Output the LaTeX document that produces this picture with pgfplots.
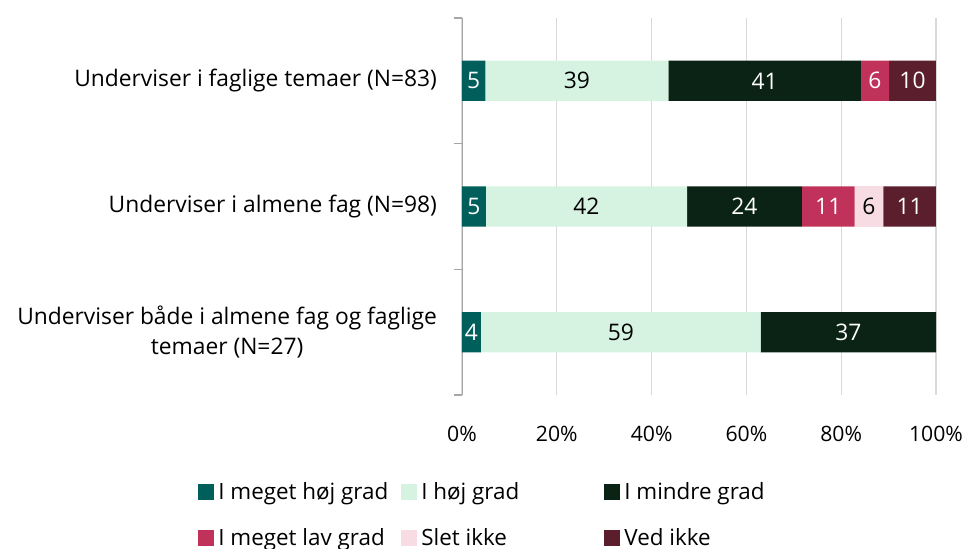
\documentclass[border=0pt]{standalone}
\usepackage{fontspec}
\setmainfont{Open Sans}
\usepackage{pgfplots}
\pgfplotsset{compat=1.18}
\usetikzlibrary{calc}
\definecolor{c1}{HTML}{005F5A}
\definecolor{c2}{HTML}{D6F3E2}
\definecolor{c3}{HTML}{0A2314}
\definecolor{c4}{HTML}{C0325A}
\definecolor{c5}{HTML}{F7DDE3}
\definecolor{c6}{HTML}{5A1E2D}
\definecolor{gridgray}{HTML}{D9D9D9}
\definecolor{axisgray}{HTML}{A6A6A6}

\newcommand{\legtext}[1]{\makebox[89.5pt][l]{#1}}

\begin{document}
\begin{tikzpicture}[font=\fontsize{11.4}{15}\selectfont]
\begin{axis}[
    name=ax,
    scale only axis,
    width=237pt, height=188.5pt,
    xbar stacked,
    bar width=0.32,
    xmin=0, xmax=100,
    ymin=-0.5, ymax=2.5,
    axis lines=left,
    axis line style={-},
    x axis line style={draw=none},
    y axis line style={draw=axisgray},
    xtick={0,20,...,100},
    xticklabel={\pgfmathprintnumber{\tick}\%},
    xticklabel style={yshift=-12pt, font=\fontsize{10.6}{13}\selectfont},
    /pgf/number format/assume math mode=true,
    xmajorgrids,
    major grid style={gridgray, line width=0.6pt},
    ytick={0,1,2},
    yticklabels={{Underviser både i almene fag og faglige\\temaer (N=27)},
                 {Underviser i almene fag (N=98)},
                 {Underviser i faglige temaer (N=83)}},
    yticklabel style={align=center, xshift=-9pt},
    minor ytick={-0.5,0.5,1.5,2.5},
    tick align=outside,
    major tick length=0pt,
    minor tick length=4pt,
    minor tick style={axisgray, line width=0.6pt},
    legend columns=3,
    legend cell align=left,
    legend style={draw=none, at={(-0.557,-0.22)}, anchor=north west,
        row sep=9pt, inner sep=0pt, font=\fontsize{11.2}{14}\selectfont},
    legend image code/.code={\fill[#1] (0pt,-4pt) rectangle (8pt,4pt);},
]
% shares of each bar (normalised to 100 %)
\addplot[fill=c1, draw=none] coordinates {(4.95,2) (5.05,1) (4,0)};
\addlegendentry{\legtext{I meget høj grad}}
\addplot[fill=c2, draw=none] coordinates {(38.61,2) (42.42,1) (59,0)};
\addlegendentry{\legtext{I høj grad}}
\addplot[fill=c3, draw=none] coordinates {(40.59,2) (24.24,1) (37,0)};
\addlegendentry{\legtext{I mindre grad}}
\addplot[fill=c4, draw=none] coordinates {(5.94,2) (11.11,1) (0,0)};
\addlegendentry{\legtext{I meget lav grad}}
\addplot[fill=c5, draw=none] coordinates {(0,2) (6.06,1) (0,0)};
\addlegendentry{\legtext{Slet ikke}}
\addplot[fill=c6, draw=none] coordinates {(9.90,2) (11.11,1) (0,0)};
\addlegendentry{\legtext{Ved ikke}}
\end{axis}
% value labels, centred in each segment
\begin{axis}[
    scale only axis,
    width=237pt, height=188.5pt,
    xmin=0, xmax=100,
    ymin=-0.5, ymax=2.5,
    hide axis,
    point meta=explicit symbolic,
    nodes near coords,
    nodes near coords style={anchor=center, inner sep=0pt},
]
\addplot[draw=none, mark=none, nodes near coords style={text=white}] coordinates {
    (2.475,2) [5] (63.855,2) [41] (87.12,2) [6] (95.04,2) [10]
    (2.525,1) [5] (59.59,1) [24] (77.265,1) [11] (94.435,1) [11]
    (2,0) [4] (81.5,0) [37]};
\addplot[draw=none, mark=none, nodes near coords style={text=black}] coordinates {
    (24.255,2) [39] (26.26,1) [42] (85.85,1) [6] (33.5,0) [59]};
\end{axis}
\pgfresetboundingbox
\path ($(ax.south west)+(-231pt,-77pt)$) rectangle ($(ax.north east)+(15.5pt,9pt)$);
\end{tikzpicture}
\end{document}
